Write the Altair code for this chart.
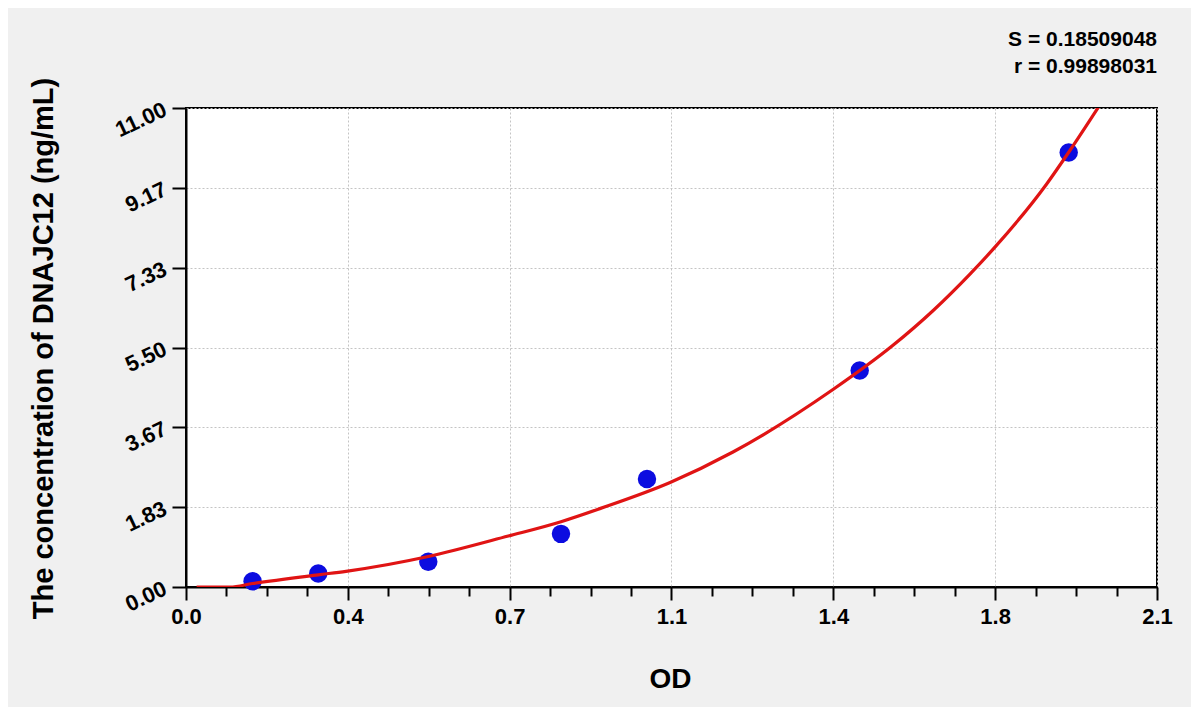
import json
import altair as alt
import pandas as pd

# Standard points (OD, concentration)
od_values = [0.144, 0.286, 0.524, 0.811, 0.997, 1.457, 1.909]
conc_values = [0.13, 0.31, 0.58, 1.22, 2.48, 4.97, 9.98]

# Fitted curve
curve_od = [0.023, 0.095, 0.144, 0.286, 0.346, 0.524, 0.697, 0.811, 0.895,
            1.047, 1.183, 1.400, 1.529, 1.616, 1.695, 1.750, 1.861, 1.912, 1.977]
curve_conc = [0.0, 0.0, 0.08, 0.28, 0.36, 0.70, 1.17, 1.50, 1.80,
              2.40, 3.10, 4.54, 5.55, 6.35, 7.18, 7.81, 9.25, 10.03, 11.08]

x_major = [0.0, 0.35, 0.7, 1.05, 1.4, 1.75, 2.1]
x_labels = ["0.0", "0.4", "0.7", "1.1", "1.4", "1.8", "2.1"]
y_major = [0.0, 11 / 6, 22 / 6, 5.5, 44 / 6, 55 / 6, 11.0]
y_labels = ["0.00", "1.83", "3.67", "5.50", "7.33", "9.17", "11.00"]

stat_s = "S = 0.18509048"
stat_r = "r = 0.99898031"

x_step = x_major[1] - x_major[0]
y_step = y_major[1] - y_major[0]
x_ticks = [i * x_step / 4 for i in range(4 * (len(x_major) - 1) + 1)]
y_ticks = [i * y_step / 4 for i in range(4 * (len(y_major) - 1) + 1)]

x_major_test = f"abs(datum.value/{x_step} - round(datum.value/{x_step})) < 0.01"
y_major_test = f"abs(datum.value/{y_step} - round(datum.value/{y_step})) < 0.01"

FONT = "Liberation Sans"

xaxis = alt.Axis(
    values=x_ticks,
    labelExpr=f"{x_major_test} ? {json.dumps(x_labels)}[round(datum.value/{x_step})] : ''",
    title="OD",
    titleFont=FONT, titleFontSize=28, titleFontWeight="bold", titleColor="black",
    titleX=484, titleY=92, titleBaseline="middle", titleAlign="center",
    labelFont=FONT, labelFontSize=22, labelFontWeight="bold", labelColor="black",
    labelPadding=6, labelFlush=False, labelOverlap=False,
    domainColor="black", domainWidth=2,
    tickColor="black", tickWidth=2,
    tickSize={"condition": {"test": x_major_test, "value": 13}, "value": 9},
    grid=True, gridColor="#c4c4c4", gridDash=[2, 2], gridWidth=1,
    gridOpacity={"condition": {"test": x_major_test, "value": 1}, "value": 0},
)

yaxis = alt.Axis(
    values=y_ticks,
    labelExpr=f"{y_major_test} ? {json.dumps(y_labels)}[round(datum.value/{y_step})] : ''",
    title="The concentration of DNAJC12 (ng/mL)",
    titleFont=FONT, titleFontSize=29, titleFontWeight="bold", titleColor="black",
    titleX=-143, titleY=240, titleAngle=270, titleBaseline="middle", titleAlign="center",
    labelFont=FONT, labelFontSize=22, labelFontWeight="bold", labelColor="black",
    labelAngle=335, labelAlign="right", labelBaseline="middle",
    labelPadding=7, labelFlush=False, labelOverlap=False,
    domainColor="black", domainWidth=2,
    tickColor="black", tickWidth=2,
    tickSize={"condition": {"test": y_major_test, "value": 14}, "value": 10},
    grid=True, gridColor="#c4c4c4", gridDash=[2, 2], gridWidth=1,
    gridOpacity={"condition": {"test": y_major_test, "value": 1}, "value": 0},
)

xscale = alt.Scale(domain=[x_major[0], x_major[-1]], nice=False, zero=False)
yscale = alt.Scale(domain=[y_major[0], y_major[-1]], nice=False, zero=False)

pts = pd.DataFrame({"od": od_values, "conc": conc_values})
curve = pd.DataFrame({"od": curve_od, "conc": curve_conc})

points = alt.Chart(pts).mark_circle(size=340, color="#0c0ce0", opacity=1).encode(
    x=alt.X("od:Q", scale=xscale, axis=xaxis),
    y=alt.Y("conc:Q", scale=yscale, axis=yaxis),
)

line = alt.Chart(curve).mark_line(
    color="#e01414", strokeWidth=3.2, interpolate="monotone", clip=True
).encode(
    x=alt.X("od:Q", scale=xscale),
    y=alt.Y("conc:Q", scale=yscale),
)

chart = alt.layer(points, line).properties(
    width=971,
    height=479,
    autosize=alt.AutoSizeParams(type="none"),
    padding={"left": 178, "top": 100, "right": 34, "bottom": 120},
    title=alt.Title(
        text=stat_s,
        subtitle=stat_r,
        anchor="end",
        orient="top",
        frame="group",
        font=FONT, fontSize=21, fontWeight="bold", color="black",
        subtitleFont=FONT, subtitleFontSize=21, subtitleFontWeight="bold",
        subtitleColor="black", subtitlePadding=6,
        offset=0,
    ),
).configure(background="#f0f0f0").configure_view(
    fill="white", stroke="black", strokeWidth=2
)

chart.save("out.html", embed_options={"renderer": "svg", "actions": False})
